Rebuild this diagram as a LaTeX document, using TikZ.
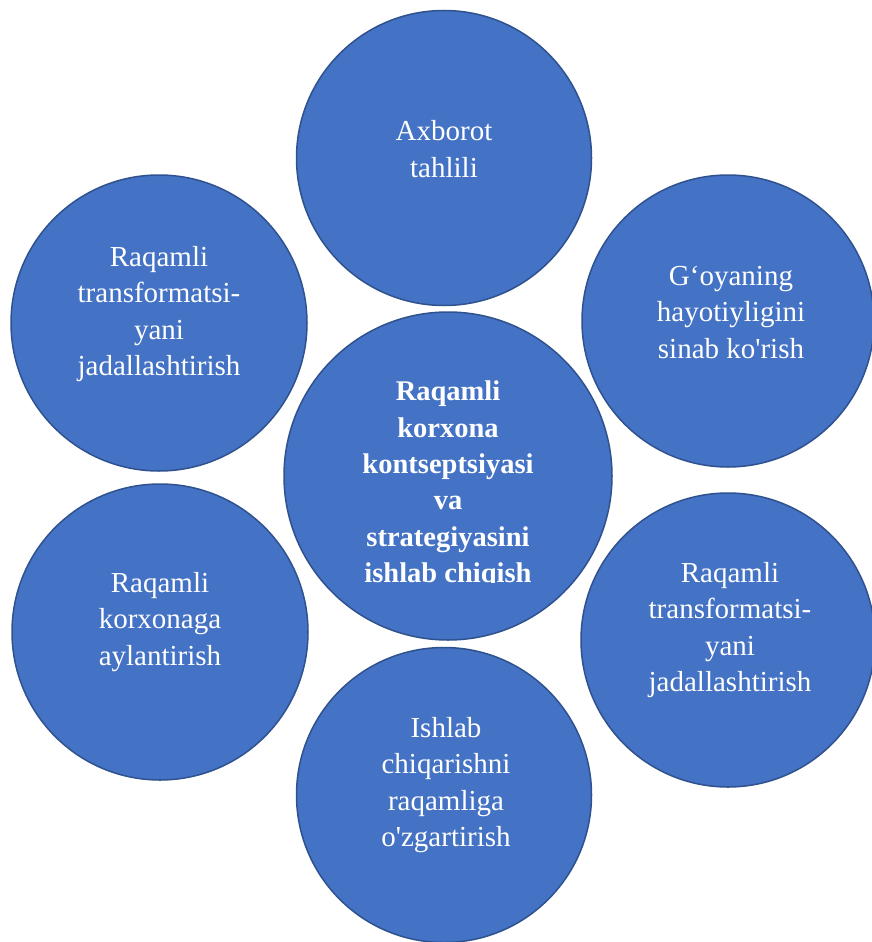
\documentclass[tikz,border=0pt]{standalone}
\usepackage{fontspec}
\setmainfont{Liberation Serif}
\newfontfamily\aposfont{Liberation Serif}
\definecolor{fillblue}{HTML}{4472C4}
\definecolor{edgeblue}{HTML}{2F528F}
\newcommand{\strq}{{\aposfont'}}
\begin{document}
\begin{tikzpicture}[x=1pt,y=-1pt,
  circ/.style={circle, fill=fillblue, draw=edgeblue, line width=1.5pt, minimum size=#1, inner sep=0pt},
  lbl/.style={text=white, align=center, inner sep=0pt, font=\fontsize{29}{36.5}\selectfont},
  blbl/.style={text=white, align=center, inner sep=0pt, font=\fontsize{28.5}{36.3}\selectfont\bfseries}]
\useasboundingbox (0,0) rectangle (872,942);
\node[circ=295pt] (ctop) at (444,158) {};
\node[circ=296pt] (cul) at (159,323) {};
\node[circ=292pt] (cur) at (728,321) {};
\node[circ=328pt] (cmid) at (448,476) {};
\node[circ=296pt] (cll) at (160,632) {};
\node[circ=294pt] (clr) at (728,640) {};
\node[circ=295pt] (cbot) at (444,795) {};

\node[lbl] (ttop) at (444,149) {Axborot\\tahlili};
\node[lbl] (tul) at (159,314) {Raqamli\\transformatsi-\\yani\\jadallashtirish};
\node[lbl] (tur) at (731,312) {G‘oyaning\\hayotiyligini\\sinab ko\strq rish};
\node[lbl] (tll) at (160,622) {Raqamli\\korxonaga\\aylantirish};
\node[lbl] (tlr) at (730,630) {Raqamli\\transformatsi-\\yani\\jadallashtirish};
\node[lbl] (tbot) at (446,785) {Ishlab\\chiqarishni\\raqamliga\\o\strq zgartirish};
\begin{scope}
\clip (284,312) rectangle (612,582);
\node[blbl] (tmid) at (448,500) {Raqamli\\korxona\\kontseptsiyasi\\va\\strategiyasini\\ishlab chiqish\\ };
\end{scope}
\end{tikzpicture}
\end{document}
